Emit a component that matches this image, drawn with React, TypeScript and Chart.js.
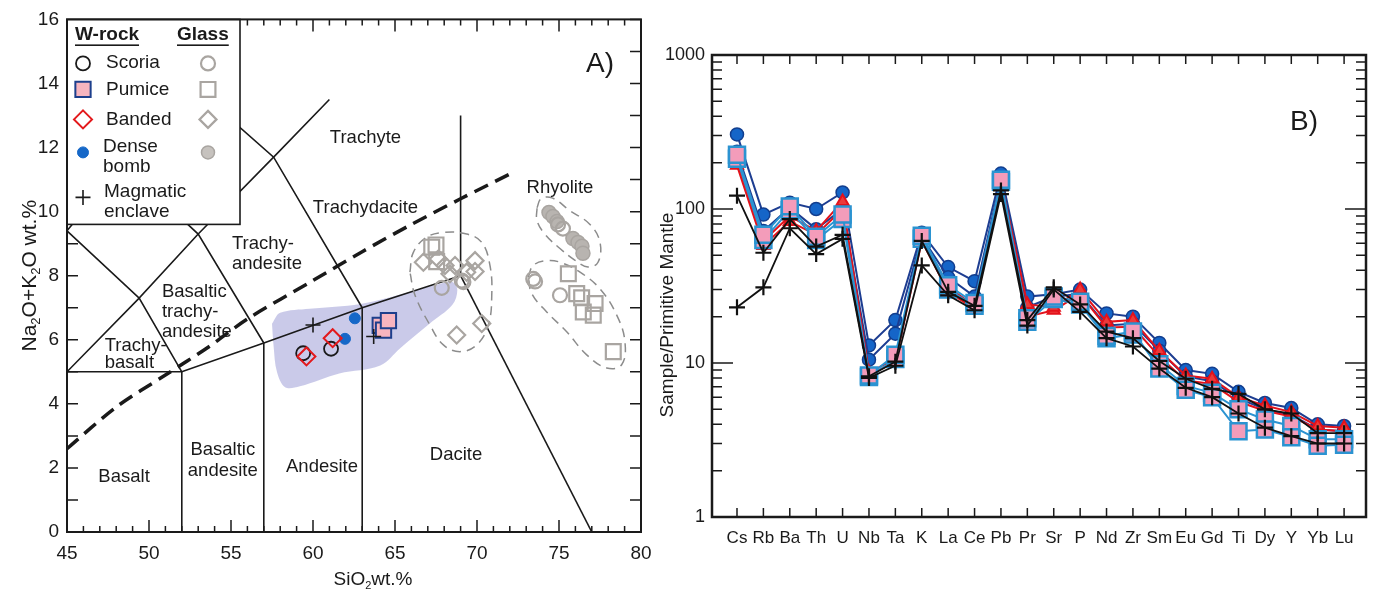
import React, { useEffect, useRef } from 'react';
import { Chart, registerables } from 'chart.js';

Chart.register(...registerables);

const FONT = '"Liberation Sans", Arial, Helvetica, sans-serif';
const INK = '#1a1a1a';
const GLASS = '#a9a5a1';

// ---------------- Panel A : TAS diagram ----------------
const scoriaWR = [[59.4, 5.58], [61.1, 5.72]];
const pumiceWR = [[64.1, 6.45], [64.3, 6.3], [64.6, 6.6]];
const bandedWR = [[59.6, 5.48], [61.2, 6.05]];
const denseBombWR = [[62.55, 6.67], [61.95, 6.03]];
const enclaveWR = [[60.0, 6.46], [63.7, 6.1]];

const scoriaGlass = [[67.85, 7.62], [69.07, 7.85], [69.17, 7.8], [73.43, 7.9], [73.54, 7.82], [75.06, 7.39], [74.94, 9.6], [75.24, 9.47]];
const pumiceGlass = [[67.24, 8.89], [67.5, 8.96], [67.54, 8.44], [75.57, 8.06], [76.08, 7.44], [76.38, 7.31], [77.2, 7.13], [76.48, 6.87], [77.09, 6.77], [78.31, 5.63]];
const bandedGlass = [[66.73, 8.42], [67.64, 8.52], [68.05, 8.32], [68.35, 8.06], [68.66, 8.32], [69.37, 8.11], [69.88, 8.47], [69.88, 8.13], [68.76, 6.15], [70.29, 6.51]];
const bombGlass = [[74.39, 9.97], [74.63, 9.85], [74.88, 9.69], [75.85, 9.16], [76.16, 9.04], [76.4, 8.92], [76.46, 8.7]];

const tasLines = [
  [[52, 0], [52, 5]],
  [[57, 0], [57, 5.9]],
  [[63, 0], [63, 7]],
  [[77, 0], [69, 8]],
  [[45, 5], [52, 5], [57, 5.9], [63, 7], [69, 8]],
  [[45, 5], [49.4, 7.3], [52, 5]],
  [[45, 9.4], [49.4, 7.3], [53, 9.3], [57.6, 11.7], [61, 13.5]],
  [[45, 9.4], [48.4, 11.5], [53, 9.3], [57, 5.9]],
  [[48.4, 11.5], [52.5, 14], [57.6, 11.7], [63, 7]],
  [[69, 8], [69, 13]],
];
const alkalineDivide = [[45, 2.6], [48, 3.9], [51, 4.9], [53.7, 5.8], [56, 6.65], [60, 7.85], [63, 8.75], [66, 9.6], [69, 10.4], [72.1, 11.2]];
const wholeRockField = [[57.5, 6.5], [58.0, 6.84], [59.8, 6.97], [62.9, 7.12], [65.9, 7.49], [67.7, 7.74], [68.5, 7.8], [68.8, 7.55], [68.5, 7.09], [67.1, 6.5], [65.3, 5.73], [64.1, 5.2], [61.6, 4.95], [59.2, 4.55], [58.3, 4.52], [57.8, 5.0], [57.6, 5.79]];
const glassFieldDacite = [[65.91, 8.11], [66.12, 8.73], [66.93, 9.2], [67.95, 9.35], [69.37, 9.3], [70.29, 9.04], [70.79, 8.32], [70.9, 7.39], [70.69, 6.46], [69.98, 5.84], [68.96, 5.63], [67.95, 5.84], [67.13, 6.46], [66.22, 7.39]];
const glassFieldRhyHigh = [[73.66, 10.12], [73.9, 10.4], [74.57, 10.43], [75.67, 10.03], [76.89, 9.6], [77.5, 9.04], [77.38, 8.42], [76.77, 8.27], [75.98, 8.48], [75.06, 8.85], [74.15, 9.29], [73.66, 9.72]];
const glassFieldRhyLow = [[73.13, 7.96], [73.43, 8.32], [74.25, 8.47], [75.06, 8.42], [76.28, 8.11], [77.5, 7.59], [78.52, 6.77], [79.02, 5.94], [78.82, 5.22], [77.91, 5.12], [76.69, 5.53], [75.47, 6.25], [74.25, 6.87], [73.34, 7.44]];

const xTicksA = [45, 50, 55, 60, 65, 70, 75, 80];
const yTicksA = [0, 2, 4, 6, 8, 10, 12, 14, 16];

// region labels: [text, x, y, align]
const regionLabels = [
  ['Trachyte', 63.2, 12.3, 'center'],
  ['Trachydacite', 63.2, 10.12, 'center'],
  ['Rhyolite', 75.06, 10.74, 'center'],
  ['Trachy-', 55.06, 8.98, 'left'],
  ['andesite', 55.06, 8.36, 'left'],
  ['Basaltic', 50.79, 7.49, 'left'],
  ['trachy-', 50.79, 6.87, 'left'],
  ['andesite', 50.79, 6.25, 'left'],
  ['Trachy-', 47.3, 5.82, 'left'],
  ['basalt', 47.3, 5.29, 'left'],
  ['Basalt', 48.48, 1.73, 'center'],
  ['Basaltic', 54.5, 2.57, 'center'],
  ['andesite', 54.5, 1.9, 'center'],
  ['Andesite', 60.55, 2.02, 'center'],
  ['Dacite', 68.72, 2.42, 'center'],
];

// ---------------- Panel B : spider diagram ----------------
const elements = ['Cs', 'Rb', 'Ba', 'Th', 'U', 'Nb', 'Ta', 'K', 'La', 'Ce', 'Pb', 'Pr', 'Sr', 'P', 'Nd', 'Zr', 'Sm', 'Eu', 'Gd', 'Ti', 'Dy', 'Y', 'Yb', 'Lu'];
const bombB1 = [305, 92, 110, 100, 128, 13, 19, 70, 42, 34, 170, 27, 28, 30, 21, 20, 13.5, 9, 8.5, 6.5, 5.5, 5.1, 4.0, 3.9];
const bombB2 = [235, 72, 102, 74, 100, 10.5, 15.5, 66, 36, 27, 158, 23, 27, 28, 17.5, 18, 12, 8.2, 7.6, 5.9, 5.0, 4.6, 3.7, 3.6];
const pumiceB1 = [225, 68, 104, 66, 92, 8.3, 11.3, 67, 32, 24.5, 155, 19.5, 27, 25, 15, 16, 9.2, 6.7, 6.0, 3.6, 3.7, 3.3, 2.9, 2.95];
const pumiceB2 = [212, 63, 98, 63, 86, 8.1, 10.6, 64, 30, 23.5, 150, 18.5, 26, 24, 14.5, 15.3, 9.8, 7.1, 6.4, 5.0, 4.3, 3.9, 3.2, 3.2];
const bandedB1 = [205, 62, 90, 72, 112, 8.7, 10.6, 65, 31, 23.5, 152, 24, 23, 30, 18.5, 19, 12, 8.3, 7.9, 6.0, 5.3, 4.8, 3.9, 3.8];
const bandedB2 = [192, 58, 83, 68, 100, 8.4, 10.1, 62, 29, 22.5, 146, 20, 22, 28, 17, 17.2, 11, 7.7, 7.3, 5.6, 4.9, 4.5, 3.7, 3.6];
const enclaveB1 = [122, 52, 86, 57, 68, 8.2, 10.2, 62, 29, 23.5, 132, 19, 31, 24, 16, 14.5, 10.3, 7.9, 6.8, 6.3, 5.0, 4.7, 3.5, 3.5];
const enclaveB2 = [23, 31, 75, 51, 64, 8.0, 9.6, 43, 27.5, 22, 125, 17.5, 30, 21.5, 14.5, 12.8, 9.2, 6.9, 6.0, 4.7, 3.8, 3.35, 3.0, 3.0];
const yTicksB = [1, 10, 100, 1000];

// ---------------- helpers ----------------
const xy = (pts: number[][]) => pts.map(([x, y]) => ({ x, y }));
const closed = (pts: number[][]) => xy([...pts, pts[0]]);

function pointsDs(pts: number[][], style: string, r: number, fill: string, edge: string, bw: number, order: number) {
  return {
    type: 'line', data: xy(pts), showLine: false, pointStyle: style, pointRadius: r,
    pointBackgroundColor: fill, pointBorderColor: edge, pointBorderWidth: bw, order,
  };
}

function lineDs(pts: any[], color: string, width: number, order: number, extra: any = {}) {
  return {
    type: 'line', data: pts, showLine: true, pointRadius: 0, borderColor: color,
    borderWidth: width, fill: false, tension: 0, order, ...extra,
  };
}

function drawMarker(ctx: CanvasRenderingContext2D, style: string, x: number, y: number, r: number, fill: string | null, edge: string, lw: number) {
  ctx.save();
  ctx.lineWidth = lw;
  ctx.strokeStyle = edge;
  ctx.beginPath();
  if (style === 'circle') {
    ctx.arc(x, y, r, 0, Math.PI * 2);
  } else if (style === 'rect') {
    const s = r * Math.SQRT1_2;
    ctx.rect(x - s, y - s, 2 * s, 2 * s);
  } else if (style === 'rectRot') {
    ctx.moveTo(x, y - r); ctx.lineTo(x + r, y); ctx.lineTo(x, y + r); ctx.lineTo(x - r, y); ctx.closePath();
  } else if (style === 'cross') {
    ctx.moveTo(x - r, y); ctx.lineTo(x + r, y); ctx.moveTo(x, y - r); ctx.lineTo(x, y + r);
  }
  if (fill) { ctx.fillStyle = fill; ctx.fill(); }
  ctx.stroke();
  ctx.restore();
}

function drawParts(ctx: CanvasRenderingContext2D, parts: [string, boolean][], x: number, y: number, size: number, rotate: boolean) {
  ctx.save();
  ctx.translate(x, y);
  if (rotate) ctx.rotate(-Math.PI / 2);
  ctx.fillStyle = INK;
  ctx.textBaseline = 'middle';
  ctx.textAlign = 'left';
  const big = `${size}px ${FONT}`;
  const small = `${Math.round(size * 0.6)}px ${FONT}`;
  let total = 0;
  const widths = parts.map(([t, sub]) => { ctx.font = sub ? small : big; const w = ctx.measureText(t).width; total += w; return w; });
  let cx = -total / 2;
  parts.forEach(([t, sub], i) => {
    ctx.font = sub ? small : big;
    ctx.fillText(t, cx, sub ? size * 0.32 : 0);
    cx += widths[i];
  });
  ctx.restore();
}

// ---------------- Panel A config ----------------
function makeConfigA() {
  const datasets: any[] = [
    pointsDs(enclaveWR, 'cross', 7.5, INK, INK, 1.6, 0),
    pointsDs(bandedWR, 'rectRot', 9, 'rgba(0,0,0,0)', '#e3191c', 2, 1),
    pointsDs(scoriaWR, 'circle', 7, 'rgba(0,0,0,0)', INK, 1.8, 2),
    pointsDs(pumiceWR, 'rect', 10.8, '#f7b5bf', '#1d3f8c', 2, 3),
    pointsDs(denseBombWR, 'circle', 5.5, '#1668c8', '#1668c8', 1, 4),
    pointsDs(scoriaGlass, 'circle', 7, 'rgba(0,0,0,0)', GLASS, 2.2, 5),
    pointsDs(pumiceGlass, 'rect', 10.5, 'rgba(0,0,0,0)', GLASS, 2.2, 6),
    pointsDs(bandedGlass, 'rectRot', 8.5, 'rgba(0,0,0,0)', GLASS, 2.2, 7),
    pointsDs(bombGlass, 'circle', 7, '#b8b4b0', GLASS, 1.5, 8),
    lineDs(closed(glassFieldDacite), '#8c8c8c', 1.5, 9, { borderDash: [9, 6], tension: 0.4 }),
    lineDs(closed(glassFieldRhyHigh), '#8c8c8c', 1.5, 9, { borderDash: [9, 6], tension: 0.4 }),
    lineDs(closed(glassFieldRhyLow), '#8c8c8c', 1.5, 9, { borderDash: [9, 6], tension: 0.4 }),
    ...tasLines.map((l) => lineDs(xy(l), INK, 1.6, 10)),
    lineDs(xy(alkalineDivide), INK, 3.5, 11, { borderDash: [15, 8], tension: 0.3 }),
    lineDs(closed(wholeRockField), 'rgba(0,0,0,0)', 0, 12, { fill: 'shape', backgroundColor: 'rgba(150,150,212,0.5)', tension: 0.35 }),
  ];

  const plugin = {
    id: 'panelA',
    afterDraw(chart: any) {
      const { ctx, chartArea: a, scales } = chart;
      const sx = scales.x, sy = scales.y;
      ctx.save();
      // region labels
      ctx.fillStyle = INK;
      ctx.font = `18.5px ${FONT}`;
      ctx.textBaseline = 'middle';
      for (const [t, x, y, al] of regionLabels as any[]) {
        ctx.textAlign = al;
        ctx.fillText(t, sx.getPixelForValue(x), sy.getPixelForValue(y));
      }
      ctx.font = `28px ${FONT}`;
      ctx.textAlign = 'center';
      ctx.fillText('A)', sx.getPixelForValue(77.5), sy.getPixelForValue(14.6));

      // legend
      const L = a.left, T = a.top, W = 173, H = 205;
      ctx.fillStyle = '#fff';
      ctx.fillRect(L, T, W, H);
      ctx.strokeStyle = INK; ctx.lineWidth = 1.6;
      ctx.strokeRect(L, T, W, H);
      ctx.fillStyle = INK;
      ctx.textAlign = 'left';
      ctx.font = `bold 19px ${FONT}`;
      const h1 = 'W-rock', h2 = 'Glass';
      ctx.fillText(h1, L + 8, T + 15);
      ctx.fillRect(L + 8, T + 25, ctx.measureText(h1).width, 1.6);
      ctx.fillText(h2, L + 110, T + 15);
      ctx.fillRect(L + 110, T + 25, ctx.measureText(h2).width, 1.6);
      ctx.font = `19px ${FONT}`;
      const mx = L + 16, gx = L + 141, tx = L + 39;
      drawMarker(ctx, 'circle', mx, T + 44, 7, null, INK, 1.8);
      ctx.fillText('Scoria', tx, T + 43);
      drawMarker(ctx, 'circle', gx, T + 44, 7, null, GLASS, 2.2);
      drawMarker(ctx, 'rect', mx, T + 70, 10.8, '#f7b5bf', '#1d3f8c', 2);
      ctx.fillText('Pumice', tx, T + 70);
      drawMarker(ctx, 'rect', gx, T + 70, 10.5, null, GLASS, 2.2);
      drawMarker(ctx, 'rectRot', mx, T + 100, 9, null, '#e3191c', 2);
      ctx.fillText('Banded', tx, T + 100);
      drawMarker(ctx, 'rectRot', gx, T + 100, 8.5, null, GLASS, 2.2);
      drawMarker(ctx, 'circle', mx, T + 133, 5.5, '#1668c8', '#1668c8', 1);
      ctx.fillText('Dense', tx - 3, T + 127);
      ctx.fillText('bomb', tx - 3, T + 147);
      drawMarker(ctx, 'circle', gx, T + 133, 6.5, '#c6c2be', GLASS, 1.5);
      drawMarker(ctx, 'cross', mx, T + 178, 7.5, null, INK, 1.6);
      ctx.fillText('Magmatic', tx - 2, T + 172);
      ctx.fillText('enclave', tx - 2, T + 192);

      // frame and inward ticks
      ctx.strokeStyle = INK;
      ctx.lineWidth = 1.5;
      ctx.beginPath();
      for (let v = 45; v <= 80; v++) {
        const px = sx.getPixelForValue(v);
        const len = v % 5 === 0 ? 12 : 6;
        ctx.moveTo(px, a.bottom); ctx.lineTo(px, a.bottom - len);
        if (px > L + W + 1) { ctx.moveTo(px, a.top); ctx.lineTo(px, a.top + len); }
      }
      for (let v = 0; v <= 16; v++) {
        const py = sy.getPixelForValue(v);
        if (py > T + H + 1) { ctx.moveTo(a.left, py); ctx.lineTo(a.left + 11, py); }
        ctx.moveTo(a.right, py); ctx.lineTo(a.right - 11, py);
      }
      ctx.stroke();
      ctx.lineWidth = 2;
      ctx.strokeRect(a.left, a.top, a.right - a.left, a.bottom - a.top);
      ctx.restore();

      // axis titles
      drawParts(ctx, [['Na', false], ['2', true], ['O+K', false], ['2', true], ['O wt.%', false]], 30, (a.top + a.bottom) / 2, 21, true);
      drawParts(ctx, [['SiO', false], ['2', true], ['wt.%', false]], 373, 580, 19, false);
    },
  };

  return {
    type: 'line',
    data: { datasets },
    plugins: [plugin],
    options: {
      responsive: false,
      animation: false,
      devicePixelRatio: 1,
      events: [],
      layout: { padding: { left: 0, right: 1383 - 641, top: 15, bottom: 0 } },
      plugins: { legend: { display: false }, tooltip: { enabled: false } },
      scales: {
        x: {
          type: 'linear', min: 45, max: 80,
          afterFit: (s: any) => { s.height = 60; },
          afterBuildTicks: (s: any) => { s.ticks = xTicksA.map((v) => ({ value: v })); },
          ticks: { font: { family: FONT, size: 19 }, color: INK, padding: 10, maxRotation: 0, autoSkip: false },
          grid: { display: false, drawTicks: false },
          border: { display: false },
        },
        y: {
          type: 'linear', min: 0, max: 16,
          afterFit: (s: any) => { s.width = 67; },
          afterBuildTicks: (s: any) => { s.ticks = yTicksA.map((v) => ({ value: v })); },
          ticks: { font: { family: FONT, size: 19 }, color: INK, padding: 8 },
          grid: { display: false, drawTicks: false },
          border: { display: false },
        },
      },
    },
  };
}

// ---------------- Panel B config ----------------
function seriesDs(vals: number[], line: string, style: string, r: number, fill: string, edge: string, pbw: number, lw: number, order: number) {
  return {
    type: 'line',
    data: vals.map((v, i) => ({ x: i, y: v })),
    showLine: true, borderColor: line, borderWidth: lw, tension: 0, fill: false,
    pointStyle: style, pointRadius: r, pointBackgroundColor: fill, pointBorderColor: edge, pointBorderWidth: pbw,
    order,
  };
}

function makeConfigB() {
  const datasets: any[] = [
    seriesDs(enclaveB1, '#111', 'cross', 8, '#111', '#111', 2.2, 1.8, 0),
    seriesDs(enclaveB2, '#111', 'cross', 8, '#111', '#111', 2.2, 1.8, 1),
    seriesDs(pumiceB1, '#2b93d1', 'rect', 11.3, '#f39cba', '#2b93d1', 2.5, 2, 2),
    seriesDs(pumiceB2, '#2b93d1', 'rect', 11.3, '#f39cba', '#2b93d1', 2.5, 2, 3),
    seriesDs(bandedB1, '#e3121b', 'triangle', 7, '#ec3a3a', '#e3121b', 2, 2, 4),
    seriesDs(bandedB2, '#e3121b', 'triangle', 7, '#ec3a3a', '#e3121b', 2, 2, 5),
    seriesDs(bombB2, '#1d3d91', 'circle', 6.5, '#1565c8', '#123e8e', 1.5, 2, 6),
    seriesDs(bombB1, '#1d3d91', 'circle', 6.5, '#1565c8', '#123e8e', 1.5, 2, 7),
  ];

  const plugin = {
    id: 'panelB',
    afterDraw(chart: any) {
      const { ctx, chartArea: a, scales } = chart;
      const sx = scales.x, sy = scales.y;
      ctx.save();
      ctx.strokeStyle = INK;
      ctx.lineWidth = 1.5;
      ctx.beginPath();
      elements.forEach((_, i) => {
        const px = sx.getPixelForValue(i);
        ctx.moveTo(px, a.bottom); ctx.lineTo(px, a.bottom - 9);
        ctx.moveTo(px, a.top); ctx.lineTo(px, a.top + 9);
      });
      for (let dec = 1; dec <= 1000; dec *= 10) {
        for (let m = 1; m <= 9; m++) {
          const v = dec * m;
          if (v > 1000) break;
          const py = sy.getPixelForValue(v);
          const len = m === 1 ? 21 : 10;
          ctx.moveTo(a.left, py); ctx.lineTo(a.left + len, py);
          ctx.moveTo(a.right, py); ctx.lineTo(a.right - len, py);
        }
      }
      ctx.stroke();
      ctx.lineWidth = 2.5;
      ctx.strokeRect(a.left, a.top, a.right - a.left, a.bottom - a.top);
      ctx.fillStyle = INK;
      ctx.font = `28px ${FONT}`;
      ctx.textAlign = 'center';
      ctx.textBaseline = 'middle';
      ctx.fillText('B)', 1304, 122);
      ctx.restore();
      drawParts(ctx, [['Sample/Primitive Mantle', false]], 668, 315, 19, true);
    },
  };

  return {
    type: 'line',
    data: { datasets },
    plugins: [plugin],
    options: {
      responsive: false,
      animation: false,
      devicePixelRatio: 1,
      events: [],
      layout: { padding: { left: 640, right: 1383 - 1366, top: 55, bottom: 0 } },
      plugins: { legend: { display: false }, tooltip: { enabled: false } },
      scales: {
        x: {
          type: 'linear', min: -0.947, max: 23.83,
          afterFit: (s: any) => { s.height = 592 - 517; },
          afterBuildTicks: (s: any) => { s.ticks = elements.map((_, i) => ({ value: i })); },
          ticks: {
            callback: (v: any) => elements[v] ?? '',
            font: { family: FONT, size: 17 }, color: INK, padding: 11, maxRotation: 0, autoSkip: false,
          },
          grid: { display: false, drawTicks: false },
          border: { display: false },
        },
        y: {
          type: 'logarithmic', min: 1, max: 1000,
          afterFit: (s: any) => { s.width = 72; },
          afterBuildTicks: (s: any) => { s.ticks = yTicksB.map((v) => ({ value: v })); },
          ticks: { callback: (v: any) => String(v), font: { family: FONT, size: 18 }, color: INK, padding: 7 },
          grid: { display: false, drawTicks: false },
          border: { display: false },
        },
      },
    },
  };
}

export default function App() {
  const refA = useRef<HTMLCanvasElement>(null);
  const refB = useRef<HTMLCanvasElement>(null);
  useEffect(() => {
    const ca = new Chart(refA.current as HTMLCanvasElement, makeConfigA() as any);
    const cb = new Chart(refB.current as HTMLCanvasElement, makeConfigB() as any);
    return () => { ca.destroy(); cb.destroy(); };
  }, []);
  const cs: React.CSSProperties = { position: 'absolute', left: 0, top: 0, width: 1383, height: 592 };
  return (
    <div style={{ position: 'absolute', left: 0, top: 0, width: 1383, height: 592, background: '#fff', overflow: 'hidden' }}>
      <canvas ref={refA} width={1383} height={592} style={cs} />
      <canvas ref={refB} width={1383} height={592} style={cs} />
    </div>
  );
}
